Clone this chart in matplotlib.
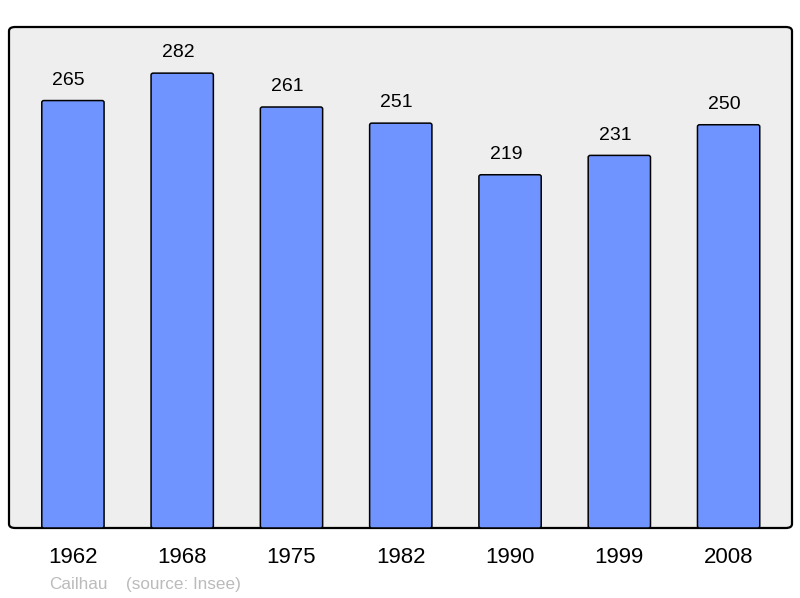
import matplotlib.pyplot as plt
from matplotlib.patches import FancyBboxPatch

annees = ["1962", "1968", "1975", "1982", "1990", "1999", "2008"]
population = [265, 282, 261, 251, 219, 231, 250]

plt.rcParams['font.family'] = ['Liberation Sans', 'DejaVu Sans']

fig = plt.figure(figsize=(8, 5.98), dpi=100)
ax = fig.add_axes([9 / 800, 70 / 598, 783 / 800, 501 / 598])
ax.set_xlim(-0.585, 6.58)
ax.set_ylim(0, 310.6)
ax.patch.set_visible(False)
for s in ax.spines.values():
    s.set_visible(False)

# fond arrondi
fond = FancyBboxPatch((0, 0), 1, 1, boxstyle="round,pad=0,rounding_size=0.008",
                      transform=ax.transAxes, facecolor="#eeeeee", edgecolor="black",
                      linewidth=1.6, zorder=0, clip_on=False)
ax.add_patch(fond)

x = range(len(annees))
for xi, val in zip(x, population):
    barre = FancyBboxPatch((xi - 0.285, 0), 0.57, val,
                           boxstyle="round,pad=0,rounding_size=0.02",
                           mutation_aspect=60,
                           facecolor="#7094ff", edgecolor="black", linewidth=1.1, zorder=2)
    ax.add_patch(barre)
    ax.annotate(str(val), (xi, val), xytext=(-3, 14.5), textcoords="offset points",
                ha="center", va="center", fontsize=14, color="black")

ax.set_xticks(list(x))
ax.set_xticklabels(annees, fontsize=16)
ax.tick_params(axis="x", length=0, pad=14)
ax.set_yticks([])

fig.text(49 / 800, 1 - 589 / 598, "Cailhau", color="#bbbbbb", fontsize=12.3, va="baseline")
fig.text(126 / 800, 1 - 589 / 598, "(source: Insee)", color="#bbbbbb", fontsize=12.3, va="baseline")

fig.savefig("out.png", dpi=100)
